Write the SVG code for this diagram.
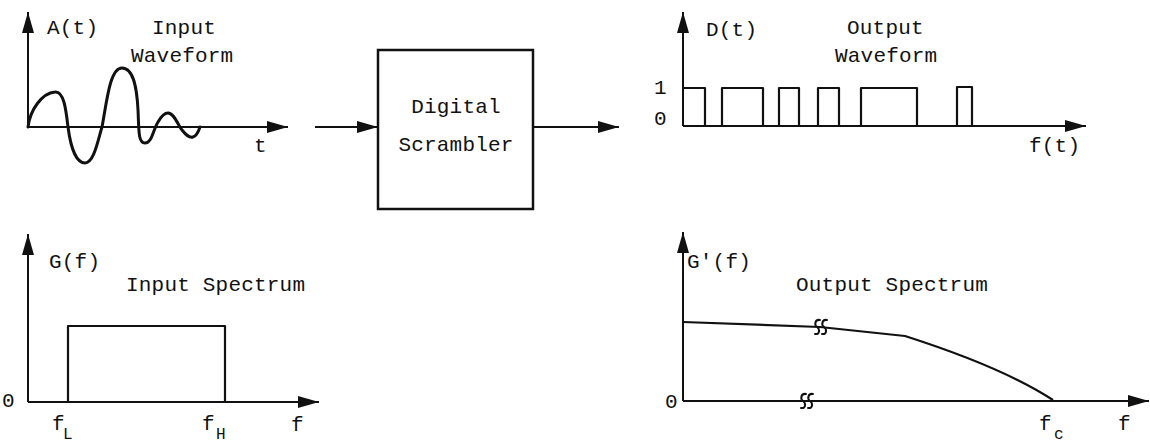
<svg xmlns="http://www.w3.org/2000/svg" width="1150" height="445" viewBox="0 0 1150 445">
  <style>
    .lbl { font-family: "Liberation Mono", "DejaVu Sans Mono", monospace; font-size: 21px; letter-spacing: 0.2px; fill: #111; }
    .sub { font-family: "Liberation Mono", "DejaVu Sans Mono", monospace; font-size: 16px; fill: #111; }
    .axis { stroke: #111; stroke-width: 2; fill: none; }
    .trace { stroke: #111; stroke-width: 3; fill: none; stroke-linejoin: round; stroke-linecap: round; }
    .thin { stroke: #111; stroke-width: 2.2; fill: none; stroke-linejoin: round; }
    .brk { stroke: #111; stroke-width: 2; fill: none; stroke-linecap: round; }
  </style>
  <defs>
    <marker id="head" markerUnits="userSpaceOnUse" markerWidth="21" markerHeight="12" refX="21" refY="6" orient="auto">
      <path d="M0,0 L21,6 L0,12 Z" fill="#111"/>
    </marker>
    <!-- break symbol: a pair of small s-curves -->
    <g id="brk">
      <path class="brk" d="M4,-7 C-1,-8 -2,-2 1,0 C4,2 4,8 -1,7"/>
      <path class="brk" d="M11,-7 C6,-8 5,-2 8,0 C11,2 11,8 6,7"/>
    </g>
  </defs>

  <!-- input waveform plot -->
  <g id="input-waveform">
    <line class="axis" x1="28" y1="127" x2="28" y2="12" marker-end="url(#head)"/>
    <line class="axis" x1="28" y1="127" x2="288" y2="127" marker-end="url(#head)"/>
    <path class="trace" d="M28,127 C30,110 42,93 55,92 C64,91 66,110 68,127 C71,150 77,163 85,163 C94,163 98,140 102,127 C107,100 110,68 122,68 C134,68 137,90 138,110 C139,130 138,143 145,143 C152,143 153,130 158,122 C162,115 165,113 168,113 C174,113 178,125 182,130 C186,135 189,138 193,137 C197,136 199,130 200,127"/>
    <text class="lbl" x="47" y="34">A(t)</text>
    <text class="lbl" x="152" y="34">Input</text>
    <text class="lbl" x="131" y="62">Waveform</text>
    <text class="lbl" x="254" y="152">t</text>
  </g>

  <!-- scrambler block -->
  <g id="scrambler">
    <rect x="378" y="50" width="155" height="159" fill="none" stroke="#111" stroke-width="2.5"/>
    <text class="lbl" x="456" y="113" text-anchor="middle">Digital</text>
    <text class="lbl" x="456" y="151" text-anchor="middle">Scrambler</text>
  </g>

  <!-- signal flow -->
  <g id="connectors">
    <line class="axis" x1="315" y1="127" x2="378" y2="127" marker-end="url(#head)"/>
    <line class="axis" x1="533" y1="127" x2="619" y2="127" marker-end="url(#head)"/>
  </g>

  <!-- output waveform plot -->
  <g id="output-waveform">
    <line class="axis" x1="683" y1="126" x2="683" y2="12" marker-end="url(#head)"/>
    <line class="axis" x1="683" y1="126" x2="1086" y2="126" marker-end="url(#head)"/>
    <path class="thin" d="M683,88 H705 V126 M722,126 V88 H763 V126 M779,126 V88 H799 V126 M818,126 V88 H839 V126 M861,126 V88 H917 V126 M957,126 V87 H972 V126"/>
    <text class="lbl" x="706" y="36">D(t)</text>
    <text class="lbl" x="847" y="34">Output</text>
    <text class="lbl" x="835" y="62">Waveform</text>
    <text class="lbl" x="654" y="94">1</text>
    <text class="lbl" x="654" y="125">0</text>
    <text class="lbl" x="1029" y="152">f(t)</text>
  </g>

  <!-- input spectrum plot -->
  <g id="input-spectrum">
    <line class="axis" x1="28" y1="402" x2="28" y2="234" marker-end="url(#head)"/>
    <line class="axis" x1="28" y1="402" x2="319" y2="402" marker-end="url(#head)"/>
    <path class="thin" d="M68,402 V326 H225 V402"/>
    <text class="lbl" x="49" y="268">G(f)</text>
    <text class="lbl" x="126" y="291">Input Spectrum</text>
    <text class="lbl" x="2" y="407">0</text>
    <text class="lbl" x="52" y="430">f</text>
    <text class="sub" x="63" y="439">L</text>
    <text class="lbl" x="202" y="430">f</text>
    <text class="sub" x="216" y="439">H</text>
    <text class="lbl" x="291" y="431">f</text>
  </g>

  <!-- output spectrum plot -->
  <g id="output-spectrum">
    <line class="axis" x1="683" y1="401" x2="683" y2="232" marker-end="url(#head)"/>
    <line class="axis" x1="683" y1="401" x2="1149" y2="401" marker-end="url(#head)"/>
    <path class="thin" d="M683,322 L820,327 L905,336 C955,352 1010,372 1053,400"/>
    <use href="#brk" x="802" y="401"/>
    <use href="#brk" x="816" y="327"/>
    <text class="lbl" x="687" y="268">G'(f)</text>
    <text class="lbl" x="796" y="291">Output Spectrum</text>
    <text class="lbl" x="665" y="408">0</text>
    <text class="lbl" x="1039" y="430">f</text>
    <text class="sub" x="1054" y="439">c</text>
    <text class="lbl" x="1118" y="430">f</text>
  </g>
</svg>
